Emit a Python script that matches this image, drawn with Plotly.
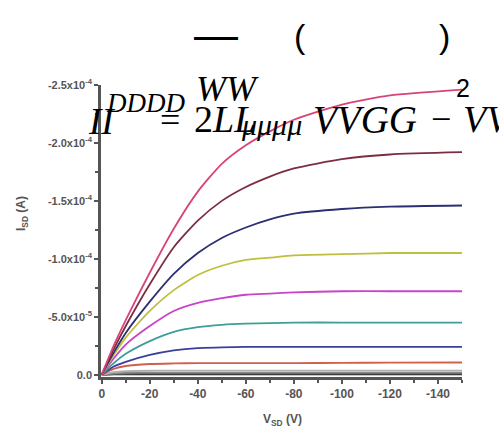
import plotly.graph_objects as go

# ---------------- data ----------------
v_sd = [0, -5, -10, -20, -30, -40, -50, -60, -70, -80, -100, -120, -150]

# drain currents in units of 1e-4 A (negative sign applied below)
i_pink    = [0, 0.25, 0.47, 0.88, 1.26, 1.58, 1.82, 1.98, 2.10, 2.20, 2.33, 2.41, 2.46]
i_brown   = [0, 0.22, 0.42, 0.78, 1.10, 1.33, 1.50, 1.62, 1.71, 1.78, 1.86, 1.90, 1.92]
i_navy    = [0, 0.19, 0.36, 0.63, 0.87, 1.05, 1.18, 1.27, 1.34, 1.39, 1.43, 1.45, 1.46]
i_olive   = [0, 0.17, 0.32, 0.55, 0.73, 0.86, 0.94, 0.99, 1.01, 1.03, 1.04, 1.05, 1.05]
i_magenta = [0, 0.14, 0.26, 0.42, 0.55, 0.62, 0.66, 0.69, 0.70, 0.71, 0.72, 0.72, 0.72]
i_teal    = [0, 0.10, 0.18, 0.29, 0.37, 0.41, 0.43, 0.44, 0.445, 0.45, 0.45, 0.45, 0.45]
i_blue    = [0, 0.07, 0.11, 0.17, 0.21, 0.23, 0.235, 0.24, 0.24, 0.24, 0.24, 0.24, 0.24]
i_red     = [0, 0.05, 0.075, 0.092, 0.097, 0.10, 0.10, 0.10, 0.10, 0.10, 0.102, 0.104, 0.105]
i_gray1   = [0, 0.022, 0.030, 0.034, 0.035, 0.035, 0.035, 0.035, 0.035, 0.035, 0.035, 0.035, 0.035]
i_gray2   = [0, 0.012, 0.016, 0.018, 0.018, 0.018, 0.018, 0.018, 0.018, 0.018, 0.018, 0.018, 0.018]
i_gray3   = [0, 0.006, 0.008, 0.009, 0.009, 0.009, 0.009, 0.009, 0.009, 0.009, 0.009, 0.009, 0.009]
i_black   = [0, 0.002, 0.002, 0.002, 0.002, 0.002, 0.002, 0.002, 0.002, 0.002, 0.002, 0.002, 0.002]

series = [
    (i_black, "#222222"), (i_gray3, "#555555"), (i_gray2, "#888888"), (i_gray1, "#b0b0b0"),
    (i_red, "#d0604c"), (i_blue, "#3b3f9c"), (i_teal, "#3e9e9a"), (i_magenta, "#c843c8"),
    (i_olive, "#bfbf3e"), (i_navy, "#2c2f70"), (i_brown, "#7c2e40"), (i_pink, "#d8437c"),
]

x_tickvals = [0, -20, -40, -60, -80, -100, -120, -140]
x_ticktext = ["0", "-20", "-40", "-60", "-80", "-100", "-120", "-140"]
y_tickvals = [0, -0.5e-4, -1.0e-4, -1.5e-4, -2.0e-4, -2.5e-4]
y_ticktext = ["0.0", "-5.0x10<sup>-5</sup>", "-1.0x10<sup>-4</sup>", "-1.5x10<sup>-4</sup>",
              "-2.0x10<sup>-4</sup>", "-2.5x10<sup>-4</sup>"]
x_title = "V<sub>SD</sub> (V)"
y_title = "I<sub>SD</sub> (A)"

# ---------------- figure ----------------
W, H = 499, 433
ML, MR, MT, MB = 101, 37, 85, 56

fig = go.Figure()
for vals, col in series:
    fig.add_trace(go.Scatter(
        x=v_sd, y=[-v * 1e-4 for v in vals], mode="lines",
        line=dict(color=col, width=1.8, shape="spline", smoothing=0.6),
        showlegend=False, hoverinfo="skip"))

AX = "#555555"
tick_font = dict(family="Liberation Sans, Arial", size=12, color="#555555", weight="bold")

fig.update_layout(
    width=W, height=H,
    margin=dict(l=ML, r=MR, t=MT, b=MB, pad=0),
    paper_bgcolor="white", plot_bgcolor="white",
    showlegend=False,
    xaxis=dict(range=[0.3, -150], tickvals=x_tickvals, ticktext=x_ticktext,
               showgrid=False, zeroline=False, showline=True, linecolor=AX,
               linewidth=2.5, ticks="outside", ticklen=4, tickwidth=1.5, tickcolor=AX,
               minor=dict(ticks="outside", dtick=10, ticklen=3, tickcolor=AX),
               tickfont=tick_font),
    yaxis=dict(range=[0.02e-4, -2.5e-4], tickvals=y_tickvals, ticktext=y_ticktext,
               showgrid=False, zeroline=False, showline=True, linecolor=AX,
               linewidth=2.5, ticks="outside", ticklen=4, tickwidth=1.5, tickcolor=AX,
               minor=dict(ticks="outside", dtick=0.25e-4, ticklen=3, tickcolor=AX),
               tickfont=dict(family="Liberation Sans, Arial", size=11, color="#555555", weight="bold")),
)


def px(x):
    return (x - ML) / (W - ML - MR)


def py(y):
    return (H - MB - y) / (H - MT - MB)


title_font = dict(family="Liberation Sans, Arial", size=12, color="#555555", weight="bold")
fig.add_annotation(text=x_title, xref="paper", yref="paper", x=px(282), y=py(420),
                   xanchor="center", yanchor="middle", showarrow=False, font=title_font)
fig.add_annotation(text=y_title, xref="paper", yref="paper", x=px(22), y=py(214),
                   xanchor="center", yanchor="middle", showarrow=False, font=title_font,
                   textangle=-90)

# ---------------- overlaid (broken) equation text ----------------
SERIF = "Liberation Serif, Times New Roman"
SANS = "Liberation Sans, Arial"
eq = [
    ("—", SANS, 44, 193, 34),
    ("(", SANS, 34, 293, 36),
    (")", SANS, 34, 438, 36),
    ("<i>WW</i>", SERIF, 36, 195, 89),
    ("2", SANS, 25, 455, 88),
    ("<i>II</i>", SERIF, 37, 87, 121),
    ("<i>DDDD</i>", SERIF, 27, 105, 103),
    ("=", SERIF, 36, 159, 120),
    ("2<i>LL</i>", SERIF, 38, 193, 119),
    ("<i>μμμμ</i>", SERIF, 30, 240, 124),
    ("<i>VVGG</i>", SERIF, 39, 312, 119),
    ("−", SERIF, 36, 430, 119),
    ("<i>VV</i>", SERIF, 38, 462, 119),
]
for text, fam, size, x0, yc in eq:
    fig.add_annotation(text=text, xref="paper", yref="paper", x=px(x0), y=py(yc),
                       xanchor="left", yanchor="middle", showarrow=False,
                       font=dict(family=fam, size=size, color="black"),
                       borderpad=0)

fig.write_html("out.html")
